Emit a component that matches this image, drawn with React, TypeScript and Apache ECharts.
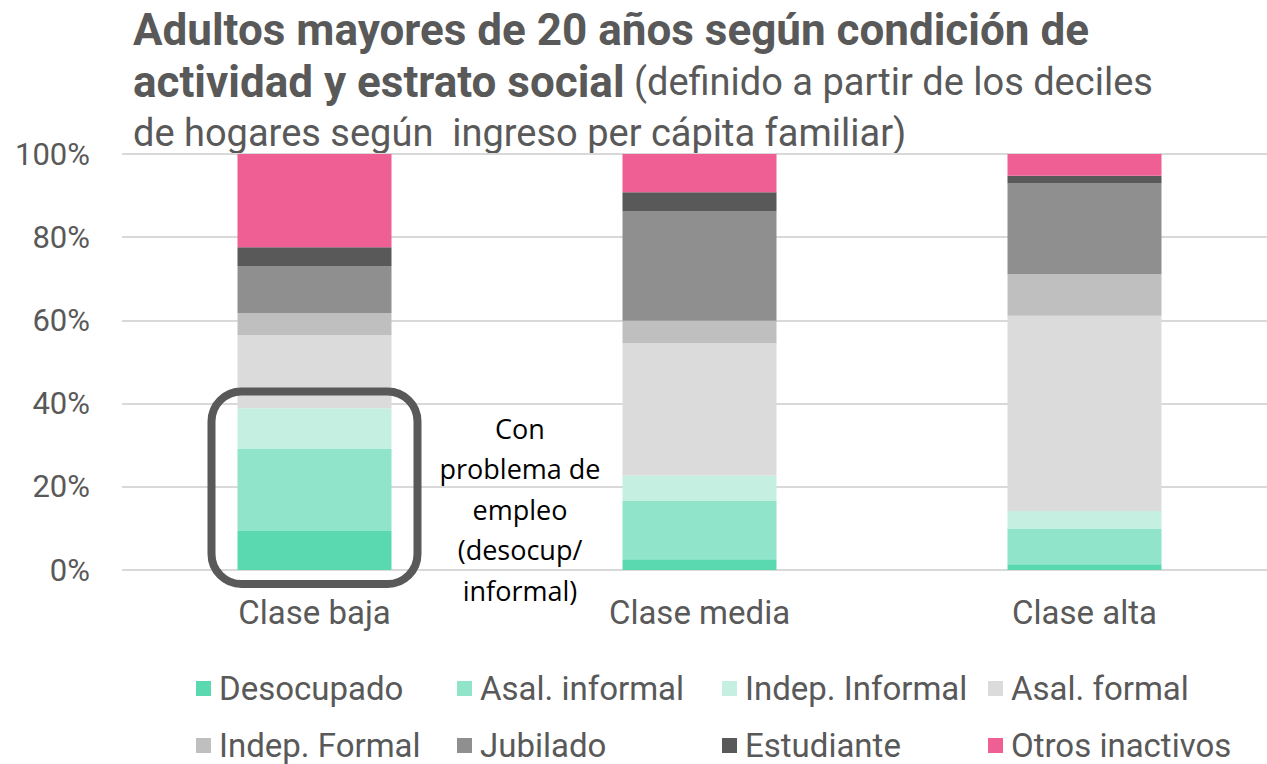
import React, { useEffect, useRef } from "react";
import * as echarts from "echarts";

const categories = ["Clase baja", "Clase media", "Clase alta"];
const seriesNames = [
  "Desocupado",
  "Asal. informal",
  "Indep. Informal",
  "Asal. formal",
  "Indep. Formal",
  "Jubilado",
  "Estudiante",
  "Otros inactivos",
];
const desocupado = [9.4, 2.6, 1.4];
const asalInformal = [19.7, 14.0, 8.6];
const indepInformal = [9.8, 6.1, 4.2];
const asalFormal = [17.6, 31.8, 46.9];
const indepFormal = [5.3, 5.4, 10.0];
const jubilado = [11.3, 26.4, 21.8];
const estudiante = [4.5, 4.5, 1.9];
const otrosInactivos = [22.4, 9.2, 5.2];
const seriesValues = [
  desocupado,
  asalInformal,
  indepInformal,
  asalFormal,
  indepFormal,
  jubilado,
  estudiante,
  otrosInactivos,
];
const colors = [
  "#5AD9B1",
  "#8FE4C9",
  "#C5F0E1",
  "#DBDBDB",
  "#BFBFBF",
  "#8F8F8F",
  "#595959",
  "#EF5F94",
];
const yTicks = [0, 20, 40, 60, 80, 100];

const TXT = "#595959";
const FONT = "Roboto";

export default function App() {
  const ref = useRef<HTMLDivElement>(null);
  useEffect(() => {
    if (!ref.current) return;
    const chart = echarts.init(ref.current, undefined, { renderer: "svg" });
    const legendCols = [196, 457, 722, 988];
    const legendRows = [672, 729];
    const legends = seriesNames.map((name, i) => ({
      data: [name],
      left: legendCols[i % 4],
      top: legendRows[Math.floor(i / 4)],
      padding: 0,
      itemWidth: 15,
      itemHeight: 15,
      icon: "rect",
      selectedMode: false,
      textStyle: {
        fontFamily: FONT,
        fontSize: 33,
        color: TXT,
        padding: [0, 0, 0, 3],
      },
    }));
    chart.setOption({
      animation: false,
      color: colors,
      textStyle: { fontFamily: FONT },
      grid: { left: 122, width: 1155, top: 154, height: 416, outerBoundsMode: "none", containLabel: false },
      legend: legends,
      xAxis: {
        type: "category",
        data: categories,
        axisLine: { show: false },
        axisTick: { show: false },
        axisLabel: { fontSize: 33, color: TXT, fontFamily: FONT, margin: 26 },
      },
      yAxis: {
        type: "value",
        min: yTicks[0],
        max: yTicks[yTicks.length - 1],
        interval: 20,
        axisLabel: {
          formatter: "{value}%",
          fontSize: 31,
          color: TXT,
          fontFamily: FONT,
          margin: 32,
        },
        splitLine: { lineStyle: { color: "#D9D9D9", width: 2 } },
      },
      series: seriesNames.map((name, i) => ({
        name,
        type: "bar",
        stack: "total",
        barWidth: 154,
        data: seriesValues[i],
        itemStyle: { color: colors[i] },
      })),
      graphic: [
        {
          type: "text",
          left: 133,
          top: 8,
          style: {
            text: "Adultos mayores de 20 años según condición de",
            fontFamily: FONT,
            fontWeight: "bold",
            fontSize: 44,
            fill: TXT,
          },
        },
        {
          type: "text",
          left: 133,
          top: 60,
          style: {
            text: "{b|actividad y estrato social}{n| (definido a partir de los deciles}",
            rich: {
              b: { fontFamily: FONT, fontWeight: "bold", fontSize: 44, fill: TXT, color: TXT },
              n: { fontFamily: FONT, fontSize: 38, fill: TXT, color: TXT },
            },
          },
        },
        {
          type: "text",
          left: 133,
          top: 114,
          style: {
            text: "de hogares según  ingreso per cápita familiar)",
            fontFamily: FONT,
            fontSize: 38,
            fill: TXT,
          },
        },
        {
          type: "rect",
          shape: { x: 211.5, y: 391.5, width: 206, height: 192.5, r: 30 },
          style: { fill: "none", stroke: "#595959", lineWidth: 8 },
          z: 100,
        },
        {
          type: "text",
          x: 520,
          y: 509,
          style: {
            text: "Con\nproblema de\nempleo\n(desocup/\ninformal)",
            fontFamily: "Open Sans",
            fontSize: 27,
            lineHeight: 40.5,
            fill: "#000000",
            align: "center",
            verticalAlign: "middle",
          },
          z: 100,
        },
      ],
    });
    return () => chart.dispose();
  }, []);
  return (
    <div
      ref={ref}
      style={{ position: "fixed", left: 0, top: 0, width: 1267, height: 764, background: "#fff" }}
    />
  );
}
